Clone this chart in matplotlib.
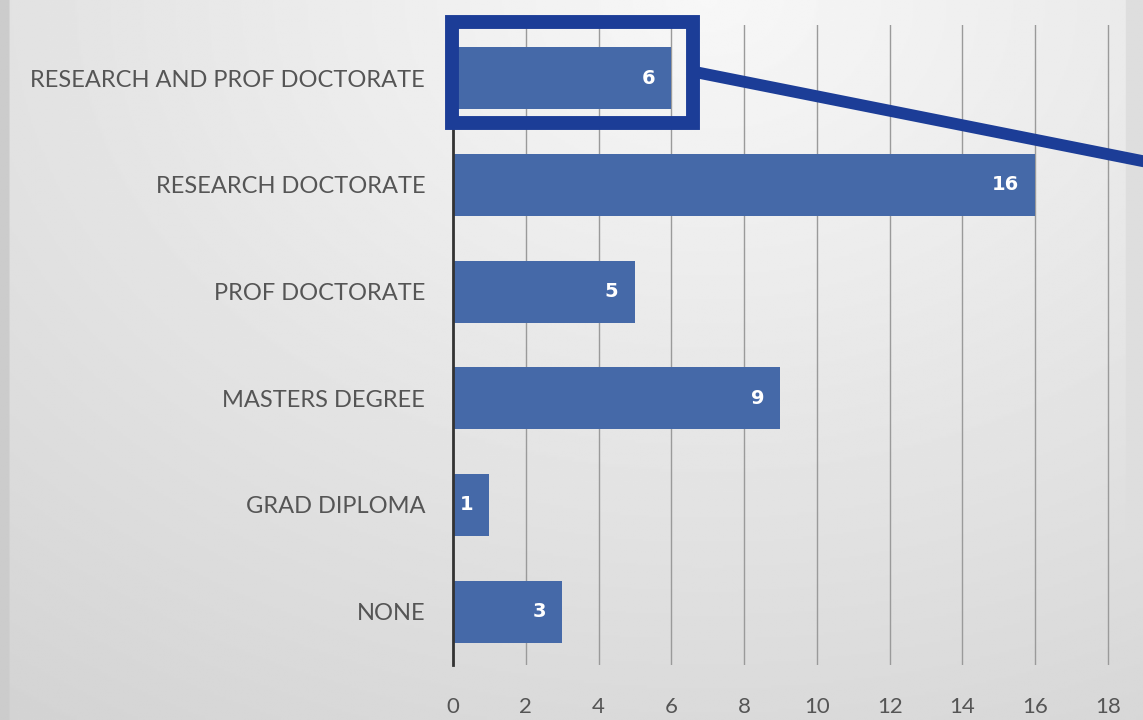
import numpy as np
import matplotlib.pyplot as plt
from matplotlib.patches import Rectangle

categories = ["NONE", "GRAD DIPLOMA", "MASTERS DEGREE", "PROF DOCTORATE",
              "RESEARCH DOCTORATE", "RESEARCH AND PROF DOCTORATE"]
counts = [3, 1, 9, 5, 16, 6]
xticks = [0, 2, 4, 6, 8, 10, 12, 14, 16, 18]

bar_color = "#4569a8"
box_color = "#1c3d97"
text_gray = "#555555"

fig = plt.figure(figsize=(11.43, 7.2), dpi=100)

# soft grey gradient background
bg = fig.add_axes([0, 0, 1, 1], zorder=-10)
gx, gy = np.meshgrid(np.linspace(0, 1, 600), np.linspace(0, 1, 300))
d = np.sqrt(((gx - 0.62) / 1.1) ** 2 + ((gy - 0.0) / 1.3) ** 2)
shade = 0.97 - 0.15 * d
shade[:, :5] = 0.80
shade[:, -9:] = np.minimum(shade[:, -9:], 0.87)
bg.imshow(shade, cmap="gray", vmin=0, vmax=1, aspect="auto",
          extent=[0, 1, 0, 1], origin="upper")
bg.set_axis_off()

ax = fig.add_axes([0.3963, 0.0764, 0.589, 0.889])
ax.set_facecolor("none")

y = np.arange(len(categories))
bars = ax.barh(y, counts, height=0.58, color=bar_color, zorder=3)

for b, v in zip(bars, counts):
    ax.text(v - 0.45, b.get_y() + b.get_height() / 2, str(v), color="white",
            fontsize=14, fontweight="bold", ha="right", va="center",
            family="DejaVu Sans", zorder=4)

ax.set_xlim(0, 18.5)
ax.set_ylim(-0.5, 5.5)
ax.set_yticks(y)
ax.set_yticklabels(categories, family="Lato", fontsize=17, color=text_gray)
ax.set_xticks(xticks)
ax.set_xticklabels([str(t) for t in xticks], family="Lato", fontsize=16,
                   color=text_gray)
ax.tick_params(axis="both", length=0)
ax.tick_params(axis="y", pad=20)
ax.tick_params(axis="x", pad=23)

ax.grid(axis="x", color="#9a9a9a", linewidth=1.0, zorder=1)
for s in ["top", "right", "bottom"]:
    ax.spines[s].set_visible(False)
ax.spines["left"].set_color("#333333")
ax.spines["left"].set_linewidth(2)
ax.spines["left"].set_zorder(5)

# highlight box round the top bar and its pointer line
ax.add_patch(Rectangle((-0.03, 4.58), 6.63, 0.95, fill=False,
                       edgecolor=box_color, linewidth=10, clip_on=False,
                       zorder=6))
ax.plot([6.63, 19.0], [5.06, 4.22], color=box_color, linewidth=8.5,
        clip_on=False, zorder=6, solid_capstyle="butt")

plt.savefig("out.png", dpi=100)
